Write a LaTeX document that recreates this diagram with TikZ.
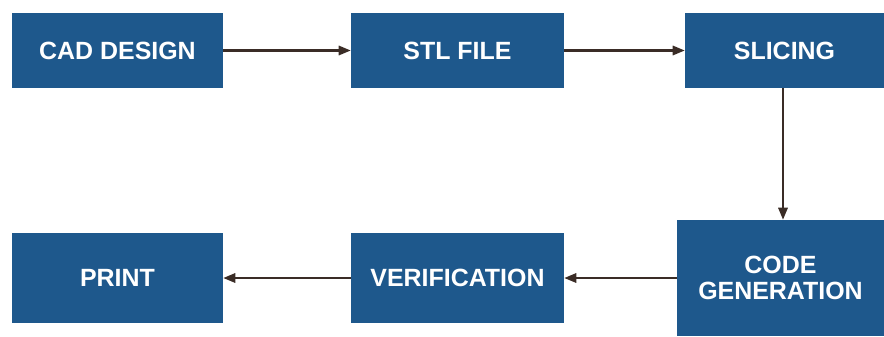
\documentclass[tikz,border=0pt]{standalone}
\usepackage{fontspec}
\setmainfont{Liberation Sans}
\usepackage{xcolor}
\usetikzlibrary{arrows.meta,calc}
\definecolor{stepblue}{RGB}{30,88,140}
\definecolor{arrowbrn}{RGB}{58,44,38}

\begin{document}
\begin{tikzpicture}[x=0.75pt,y=0.75pt,yscale=-1,xscale=1,
	stagebox/.style={fill=stepblue,draw=none,text=white,inner sep=0.75pt,align=center,font=\fontsize{18.7}{19}\selectfont\bfseries},
	flowline/.style={draw=arrowbrn,line width=1.6pt,-{Triangle[length=9pt,width=7pt]}}]
		\path[use as bounding box] (0,0) rectangle (884,336);

		\node (cad) at (117.5,50.5) [stagebox,minimum width=158.25pt,minimum height=56.25pt] {CAD DESIGN};
		\node (stl) at (457.5,50.5) [stagebox,minimum width=159.75pt,minimum height=56.25pt] {STL FILE};
		\node (slicing) at (784.5,50.5) [stagebox,minimum width=149.25pt,minimum height=56.25pt] {SLICING};
		\node (codegen) at (780.5,278) [stagebox,minimum width=155.25pt,minimum height=87pt] {CODE\\GENERATION};
		\node (verif) at (457.5,278) [stagebox,minimum width=159.75pt,minimum height=67.5pt] {VERIFICATION};
		\node (print) at (117.5,278) [stagebox,minimum width=158.25pt,minimum height=67.5pt] {PRINT};

		\draw [flowline] (cad) -- (stl);
		\draw [flowline] (stl) -- (slicing);
		\draw [flowline] ($(slicing.south)+(-1.5,0)$) -- ($(slicing.south |- codegen.north)+(-1.5,0)$);
		\draw [flowline] (codegen) -- (verif);
		\draw [flowline] (verif) -- (print);
\end{tikzpicture}
\end{document}
